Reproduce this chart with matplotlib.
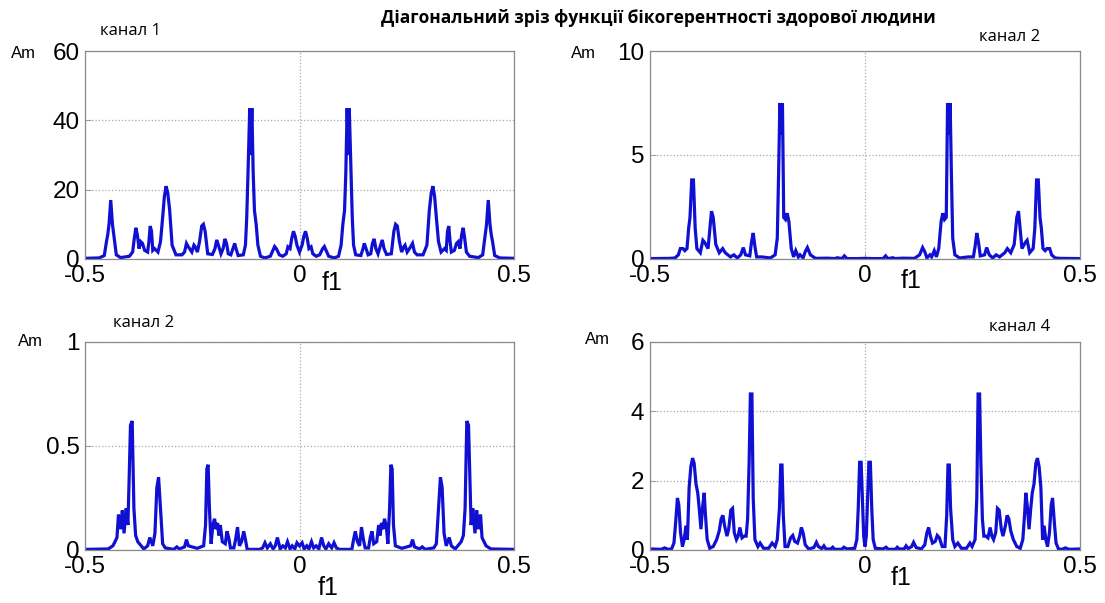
import numpy as np
import matplotlib.pyplot as plt

plt.rcParams['axes.unicode_minus'] = False

W, H = 1105, 603

title = 'Діагональний зріз функції бікогерентності здорової людини'

# right half (f1 >= 0) of each diagonal slice; the slice is symmetric about f1 = 0
ch1_f = [0.0, 0.006, 0.010, 0.014, 0.018, 0.022, 0.027, 0.031, 0.039, 0.047, 0.054, 0.058,
         0.062, 0.068, 0.081, 0.091, 0.097, 0.101, 0.105, 0.108, 0.111, 0.114, 0.116, 0.120,
         0.123, 0.126, 0.131, 0.143, 0.148, 0.151, 0.155, 0.160, 0.166, 0.170, 0.174, 0.178,
         0.183, 0.189, 0.193, 0.197, 0.203, 0.214, 0.220, 0.224, 0.228, 0.233, 0.238, 0.243,
         0.246, 0.251, 0.259, 0.2635, 0.268, 0.274, 0.288, 0.297, 0.3026, 0.307, 0.311, 0.315,
         0.319, 0.324, 0.330, 0.338, 0.342, 0.345, 0.348, 0.351, 0.354, 0.361, 0.366, 0.370,
         0.374, 0.378, 0.3815, 0.385, 0.389, 0.3965, 0.417, 0.427, 0.432, 0.436, 0.440, 0.444,
         0.447, 0.450, 0.455, 0.467, 0.5]
ch1_am = [2.0, 4.0, 6.5, 8.0, 6.0, 3.0, 3.5, 1.5, 0.8, 1.2, 3.0, 3.6,
          2.5, 0.8, 0.3, 0.8, 4.0, 10.0, 14.0, 25.0, 43.5, 30.0, 43.5, 25.0,
          12.0, 4.0, 1.2, 1.0, 3.0, 4.5, 3.0, 1.2, 1.5, 4.5, 5.8, 3.0,
          1.5, 4.0, 5.5, 3.0, 1.3, 1.5, 8.0, 10.0, 9.5, 5.0, 2.0, 3.5,
          4.0, 2.0, 3.5, 4.5, 2.0, 1.2, 1.2, 4.0, 14.0, 19.0, 21.0, 18.0,
          12.0, 5.0, 2.0, 3.0, 2.5, 8.0, 9.5, 5.0, 2.0, 2.5, 4.5, 5.0,
          3.0, 7.0, 9.0, 6.0, 2.0, 0.8, 0.4, 1.2, 6.0, 10.0, 17.0, 10.0,
          7.0, 5.0, 1.0, 0.3, 0.2]

ch2_f = [0.0, 0.018, 0.042, 0.048, 0.053, 0.065, 0.070, 0.087, 0.115, 0.127, 0.134, 0.139,
         0.144, 0.151, 0.155, 0.161, 0.166, 0.1715, 0.177, 0.181, 0.185, 0.189, 0.192, 0.1955,
         0.198, 0.201, 0.204, 0.209, 0.220, 0.240, 0.252, 0.256, 0.260, 0.264, 0.268, 0.278,
         0.283, 0.289, 0.297, 0.305, 0.313, 0.325, 0.331, 0.339, 0.347, 0.353, 0.357, 0.361,
         0.365, 0.373, 0.377, 0.383, 0.391, 0.395, 0.399, 0.403, 0.407, 0.410, 0.414, 0.419,
         0.423, 0.4295, 0.434, 0.442, 0.454, 0.5]
ch2_am = [0.03, 0.02, 0.02, 0.15, 0.02, 0.06, 0.02, 0.04, 0.03, 0.2, 0.55, 0.35,
          0.05, 0.2, 0.1, 0.4, 0.1, 0.5, 1.8, 2.2, 1.9, 2.0, 7.5, 6.0,
          7.5, 4.0, 1.0, 0.2, 0.05, 0.1, 0.1, 0.6, 1.25, 0.8, 0.15, 0.2,
          0.55, 0.2, 0.05, 0.2, 0.1, 0.3, 0.5, 0.3, 0.7, 2.0, 2.3, 1.4,
          0.5, 0.8, 0.9, 0.3, 0.5, 1.5, 3.8, 3.8, 2.0, 1.5, 0.5, 0.4,
          0.5, 0.5, 0.2, 0.05, 0.03, 0.02]

ch3_f = [0.0, 0.006, 0.011, 0.017, 0.022, 0.028, 0.033, 0.039, 0.045, 0.0515, 0.0565, 0.0615,
         0.068, 0.075, 0.0805, 0.086, 0.093, 0.122, 0.126, 0.130, 0.135, 0.140, 0.1445, 0.149,
         0.153, 0.161, 0.165, 0.169, 0.173, 0.180, 0.1845, 0.188, 0.191, 0.1945, 0.198, 0.202,
         0.206, 0.210, 0.213, 0.216, 0.219, 0.2235, 0.2385, 0.259, 0.2635, 0.268, 0.280, 0.286,
         0.293, 0.313, 0.319, 0.324, 0.3285, 0.3325, 0.337, 0.342, 0.349, 0.354, 0.363, 0.377,
         0.382, 0.386, 0.390, 0.394, 0.397, 0.400, 0.404, 0.409, 0.413, 0.417, 0.422, 0.4255,
         0.430, 0.435, 0.446, 0.5]
ch3_am = [0.02, 0.035, 0.005, 0.02, 0.005, 0.04, 0.01, 0.02, 0.005, 0.06, 0.02, 0.005,
          0.03, 0.01, 0.035, 0.01, 0.003, 0.003, 0.05, 0.09, 0.04, 0.02, 0.11, 0.05,
          0.01, 0.01, 0.06, 0.09, 0.03, 0.04, 0.12, 0.07, 0.13, 0.1, 0.15, 0.12,
          0.03, 0.2, 0.41, 0.39, 0.12, 0.02, 0.008, 0.02, 0.05, 0.015, 0.005, 0.015,
          0.003, 0.01, 0.03, 0.2, 0.35, 0.3, 0.08, 0.02, 0.06, 0.02, 0.005, 0.04,
          0.07, 0.2, 0.62, 0.6, 0.35, 0.12, 0.2, 0.08, 0.19, 0.1, 0.17, 0.06,
          0.04, 0.02, 0.005, 0.003]

ch4_f = [0.0, 0.003, 0.006, 0.009, 0.0125, 0.0157, 0.019, 0.024, 0.042, 0.049, 0.054, 0.071,
         0.075, 0.0795, 0.091, 0.0956, 0.1005, 0.1085, 0.113, 0.119, 0.131, 0.139, 0.144, 0.148,
         0.152, 0.157, 0.1635, 0.168, 0.173, 0.1795, 0.186, 0.190, 0.193, 0.196, 0.199, 0.204,
         0.209, 0.216, 0.224, 0.236, 0.244, 0.249, 0.256, 0.260, 0.263, 0.2665, 0.2695, 0.273,
         0.2764, 0.281, 0.286, 0.291, 0.295, 0.299, 0.304, 0.308, 0.312, 0.317, 0.321, 0.3265,
         0.3305, 0.3345, 0.339, 0.345, 0.353, 0.361, 0.367, 0.371, 0.374, 0.378, 0.3815, 0.3855,
         0.389, 0.393, 0.3973, 0.401, 0.405, 0.409, 0.413, 0.4165, 0.4205, 0.4245, 0.429, 0.433,
         0.4362, 0.4403, 0.4443, 0.450, 0.458, 0.466, 0.474, 0.5]
ch4_am = [0.1, 0.4, 1.5, 2.53, 2.53, 1.2, 0.3, 0.05, 0.03, 0.08, 0.02, 0.02,
          0.08, 0.03, 0.03, 0.12, 0.04, 0.1, 0.22, 0.07, 0.03, 0.15, 0.5, 0.65,
          0.4, 0.2, 0.25, 0.42, 0.35, 0.1, 0.1, 1.0, 2.45, 2.45, 1.2, 0.3,
          0.1, 0.2, 0.05, 0.05, 0.2, 0.1, 0.3, 1.5, 4.5, 4.5, 2.5, 0.9,
          0.4, 0.4, 0.35, 0.65, 0.4, 0.3, 0.5, 1.2, 1.15, 0.6, 0.4, 0.7,
          1.0, 0.9, 0.55, 0.3, 0.1, 0.05, 0.3, 1.0, 1.65, 1.2, 0.6, 1.2,
          1.65, 1.9, 2.5, 2.65, 2.4, 1.8, 0.3, 0.7, 0.3, 0.1, 0.5, 1.3,
          1.5, 0.8, 0.2, 0.03, 0.02, 0.06, 0.02, 0.03]

x_ticks = [-0.5, 0, 0.5]
x_labels = ['-0.5', '0', '0.5']
y_ticks = [[0, 20, 40, 60], [0, 5, 10], [0, 0.5, 1], [0, 2, 4, 6]]
y_labels = [['0', '20', '40', '60'], ['0', '5', '10'], ['0', '0.5', '1'], ['0', '2', '4', '6']]
channel_names = ['канал 1', 'канал 2', 'канал 2', 'канал 4']
series = [(ch1_f, ch1_am), (ch2_f, ch2_am), (ch3_f, ch3_am), (ch4_f, ch4_am)]

# axes boxes in pixels: left, top, right, bottom
boxes = [(85, 51, 514, 259), (650, 51, 1080, 259),
         (85, 342, 514, 550), (650, 342, 1080, 550)]
name_pos = [(130, 31), (1010, 37), (144, 323), (1020, 327)]
am_pos = [(23, 53), (583, 53), (30, 341), (597, 340)]
f1_pos = [(332, 283), (911, 281), (328, 588), (901, 578)]

fig = plt.figure(figsize=(W / 100, H / 100), dpi=100)


def px(x, y):
    return x / W, 1 - y / H


for i, (f_half, am_half) in enumerate(series):
    l, t, r, b = boxes[i]
    ax = fig.add_axes([l / W, 1 - b / H, (r - l) / W, (b - t) / H])
    f_half = np.asarray(f_half)
    am_half = np.asarray(am_half)
    f = np.concatenate([-f_half[::-1], f_half[1:]])
    am = np.concatenate([am_half[::-1], am_half[1:]])
    ax.plot(f, am, color='#1010d2', lw=2.3, solid_joinstyle='miter')

    ax.set_xlim(-0.5, 0.5)
    ax.set_ylim(y_ticks[i][0], y_ticks[i][-1])
    ax.set_xticks(x_ticks)
    ax.set_xticklabels(x_labels)
    ax.set_yticks(y_ticks[i])
    ax.set_yticklabels(y_labels[i])
    ax.tick_params(direction='in', length=4, width=0.6, color='#909090',
                   labelsize=17.5, pad=4)
    ax.tick_params(axis='x', pad=4)
    for lab in ax.get_xticklabels() + ax.get_yticklabels():
        lab.set_family('Liberation Sans')
    ax.grid(True, linestyle=':', color='#a8a8a8', lw=0.9)
    for sp in ax.spines.values():
        sp.set_color('#8a8a8a')
        sp.set_linewidth(0.9)

    fig.text(*px(*name_pos[i]), channel_names[i], family='Open Sans',
             fontsize=12, ha='center', va='center')
    fig.text(*px(*am_pos[i]), 'Am', family='Liberation Sans',
             fontsize=12, ha='center', va='center')
    fig.text(*px(*f1_pos[i]), 'f1', family='Liberation Sans',
             fontsize=18, ha='center', va='center')

fig.text(*px(658, 18), title, family='Open Sans', fontweight='bold',
         fontsize=12.5, ha='center', va='center')

fig.savefig('out.png', dpi=100)
